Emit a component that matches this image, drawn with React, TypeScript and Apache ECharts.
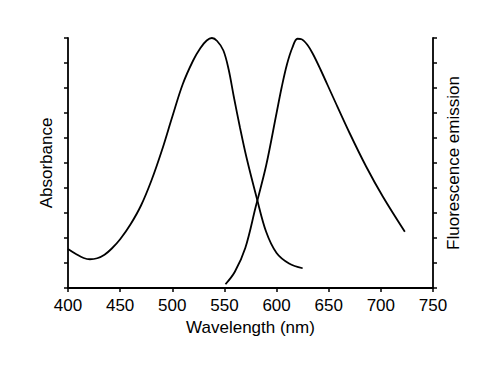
import React, { useEffect, useRef } from "react";
import * as echarts from "echarts";

const absWavelength = [400, 408, 415, 421, 428, 435, 442, 450, 460, 470, 480, 490, 500, 510, 520, 527, 533, 538, 543, 549, 554, 559, 565, 571, 581, 590, 600, 612, 625];
const absValues = [1.56, 1.35, 1.2, 1.15, 1.19, 1.33, 1.58, 1.95, 2.55, 3.3, 4.3, 5.5, 6.85, 8.15, 9.1, 9.6, 9.9, 10.0, 9.88, 9.5, 8.75, 7.65, 6.4, 5.25, 3.6, 2.25, 1.4, 0.98, 0.79];

const emWavelength = [551, 560, 570, 580, 590, 600, 605, 610, 615, 620, 624, 630, 635, 642, 654, 670, 686, 702, 723];
const emValues = [0.15, 0.65, 1.6, 3.25, 4.9, 7.0, 8.05, 8.95, 9.6, 9.97, 9.95, 9.7, 9.35, 8.75, 7.65, 6.2, 4.85, 3.65, 2.25];

const xTicks = [400, 450, 500, 550, 600, 650, 700, 750];

const FONT = "Liberation Sans, Arial, Helvetica, sans-serif";

export default function App() {
  const ref = useRef<HTMLDivElement>(null);
  useEffect(() => {
    document.body.style.margin = "0";
    if (!ref.current) return;
    const chart = echarts.init(ref.current, undefined, { renderer: "svg" });
    const axisLine = { show: true, lineStyle: { color: "#000", width: 1.8 } };
    const axisTick = { show: true, length: 4, lineStyle: { color: "#000", width: 1.5 } };
    chart.setOption({
      animation: false,
      backgroundColor: "#fff",
      grid: { left: 68, right: 67, top: 38, bottom: 80, containLabel: false },
      xAxis: {
        type: "value",
        min: xTicks[0],
        max: xTicks[xTicks.length - 1],
        interval: 50,
        name: "Wavelength (nm)",
        nameLocation: "middle",
        nameGap: 28,
        nameTextStyle: { color: "#000", fontSize: 17, fontFamily: FONT },
        axisLine,
        axisTick,
        axisLabel: { color: "#000", fontSize: 17, fontFamily: FONT, margin: 9 },
        splitLine: { show: false },
      },
      yAxis: [
        {
          type: "value",
          min: 0,
          max: 10,
          interval: 1,
          position: "left",
          name: "Absorbance",
          nameLocation: "middle",
          nameRotate: 90,
          nameGap: 13,
          nameTextStyle: { color: "#000", fontSize: 17, fontFamily: FONT },
          axisLine,
          axisTick,
          axisLabel: { show: false },
          splitLine: { show: false },
        },
        {
          type: "value",
          min: 0,
          max: 10,
          interval: 1,
          position: "right",
          name: "Fluorescence emission",
          nameLocation: "middle",
          nameRotate: 90,
          nameGap: 12,
          nameTextStyle: { color: "#000", fontSize: 17, fontFamily: FONT },
          axisLine,
          axisTick,
          axisLabel: { show: false },
          splitLine: { show: false },
        },
      ],
      series: [
        {
          type: "line",
          name: "Absorbance",
          yAxisIndex: 0,
          smooth: 0.35,
          showSymbol: false,
          lineStyle: { color: "#000", width: 1.8 },
          data: absWavelength.map((w, i) => [w, absValues[i]]),
        },
        {
          type: "line",
          name: "Fluorescence emission",
          yAxisIndex: 1,
          smooth: 0.35,
          showSymbol: false,
          lineStyle: { color: "#000", width: 1.8 },
          data: emWavelength.map((w, i) => [w, emValues[i]]),
        },
      ],
    });
    return () => chart.dispose();
  }, []);
  return <div ref={ref} style={{ width: 500, height: 368 }} />;
}
